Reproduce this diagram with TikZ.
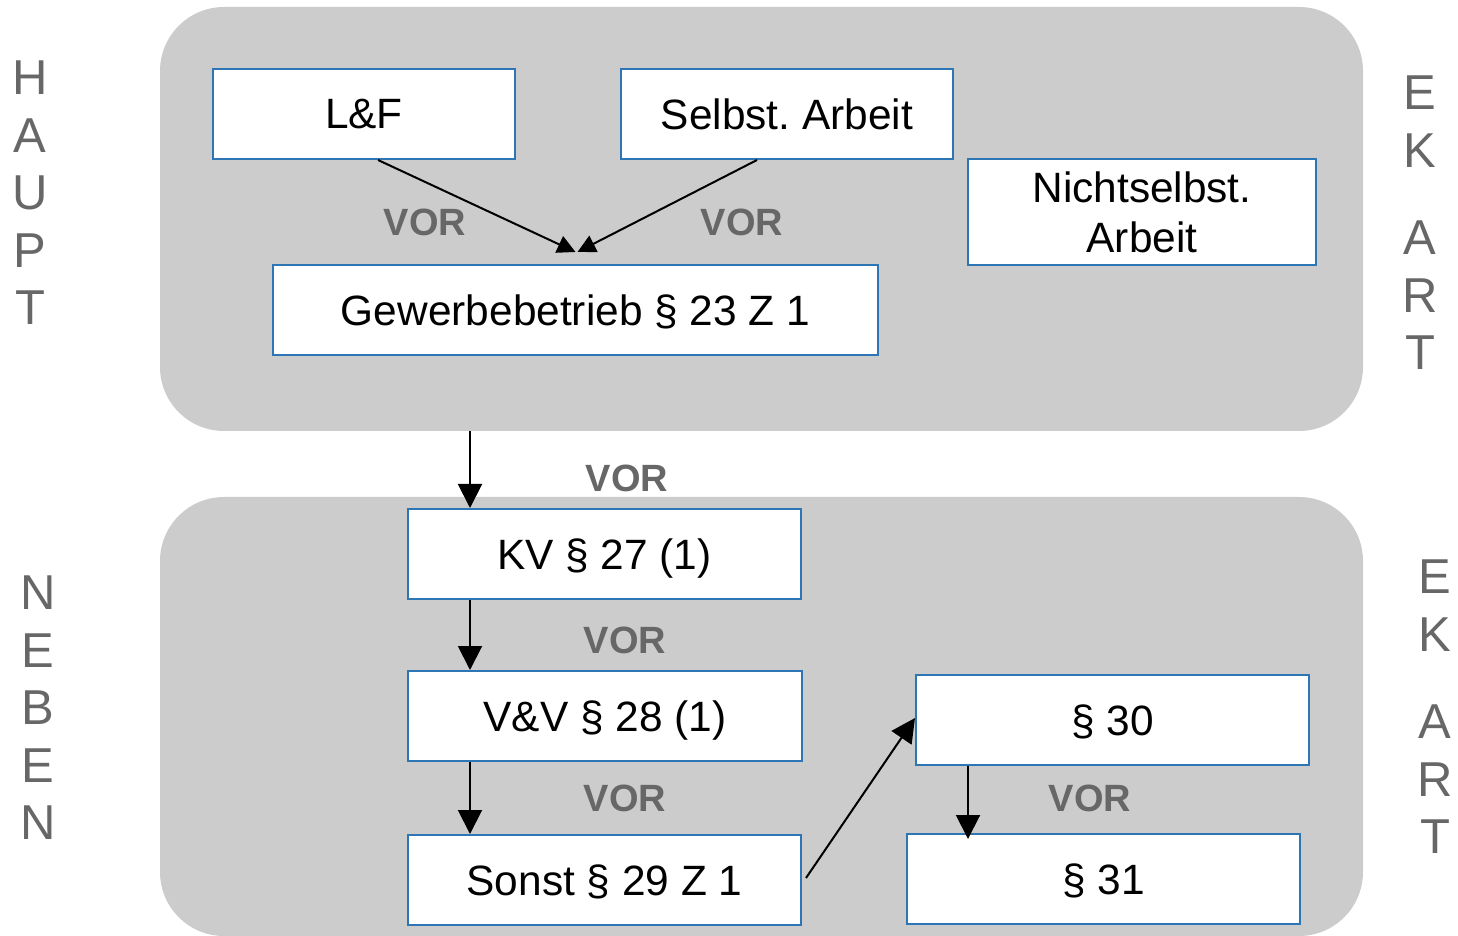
\documentclass[tikz,border=0pt]{standalone}
\usepackage{fontspec}
\setmainfont{Liberation Sans}
\usetikzlibrary{arrows.meta}
\definecolor{panelgray}{HTML}{CCCCCC}
\definecolor{boxblue}{HTML}{2E75B6}
\definecolor{vorgray}{HTML}{676767}
\tikzstyle{panel}=[rounded corners=32pt,fill=panelgray,inner sep=0pt,minimum width=601.5pt]
\tikzstyle{kat}=[draw=boxblue,line width=1pt,fill=white,inner sep=0pt,minimum height=45pt,align=center,text depth=0pt,font=\fontsize{21.2}{25}\selectfont]
\tikzstyle{vor}=[text=vorgray,font=\fontsize{19}{22}\bfseries\selectfont]
\tikzstyle{side}=[text=vorgray,inner sep=0pt,align=center,font=\fontsize{24.5}{28.75}\selectfont]
\tikzstyle{arr}=[-{Triangle[length=12pt,width=12pt]},line width=1pt]

\begin{document}
\begin{tikzpicture}[x=0.5pt,y=-0.5pt]
\clip (0,0) rectangle (1458,936);
\node[panel,minimum height=212pt] at (761.5, 219) (haupt) {};
\node[panel,minimum height=219.5pt] at (761.5, 716.5) (neben) {};
\node[side] at (30, 193) (h) {H\\A\\U\\P\\T};
\node[side] at (1420, 223) (ek1) {E\\K\\[15pt]A\\R\\T};
\node[side] at (38, 708) (n) {N\\E\\B\\E\\N};
\node[side] at (1435, 707) (ek2) {E\\K\\[15pt]A\\R\\T};
\node[kat,minimum width=151pt] at (364, 114) (lf) {L\&F};
\node[kat,minimum width=166pt] at (787, 114) (sa) {Selbst.\ Arbeit};
\node[kat,minimum width=174pt,minimum height=53pt] at (1142, 212) (nsa) {Nichtselbst.\\Arbeit};
\node[kat,minimum width=302.5pt] at (575.5, 310) (gew) {Gewerbebetrieb \S\ 23 Z 1};
\node[kat,minimum width=196.5pt] at (604.5, 554) (kv) {KV \S\ 27 (1)};
\node[kat,minimum width=197pt] at (605, 716) (vv) {V\&V \S\ 28 (1)};
\node[kat,minimum width=196.5pt] at (604.5, 880) (so) {Sonst \S\ 29 Z 1};
\node[kat,minimum width=196.5pt] at (1112.5, 720) (p30) {\S\ 30};
\node[kat,minimum width=196.5pt] at (1103.5, 879) (p31) {\S\ 31};
\node[vor] at (425, 222) (v1) {VOR};
\node[vor] at (742, 222) (v2) {VOR};
\node[vor] at (627, 478) (v3) {VOR};
\node[vor] at (625, 640) (v4) {VOR};
\node[vor] at (625, 798) (v5) {VOR};
\node[vor] at (1090, 798) (v6) {VOR};
\draw[arr,-{Triangle[length=9pt,width=9pt]}] ([xshift=7pt]lf.south) -- ([yshift=6pt]gew.north);
\draw[arr,-{Triangle[length=9pt,width=9pt]}] ([xshift=-15pt]sa.south) -- ([xshift=1pt,yshift=6pt]gew.north);
\draw[arr] (haupt.south -| 470,0) -- (kv.north -| 470,0);
\draw[arr] (kv.south -| 470,0) -- (vv.north -| 470,0);
\draw[arr] (vv.south -| 470,0) -- (so.north -| 470,0);
\draw[arr] ([xshift=2pt,yshift=1pt]so.east) -- ([yshift=1pt]p30.west);
\draw[arr] (p30.south -| 968,0) -- ([yshift=-3pt]p31.north -| 968,0);
\end{tikzpicture}
\end{document}
